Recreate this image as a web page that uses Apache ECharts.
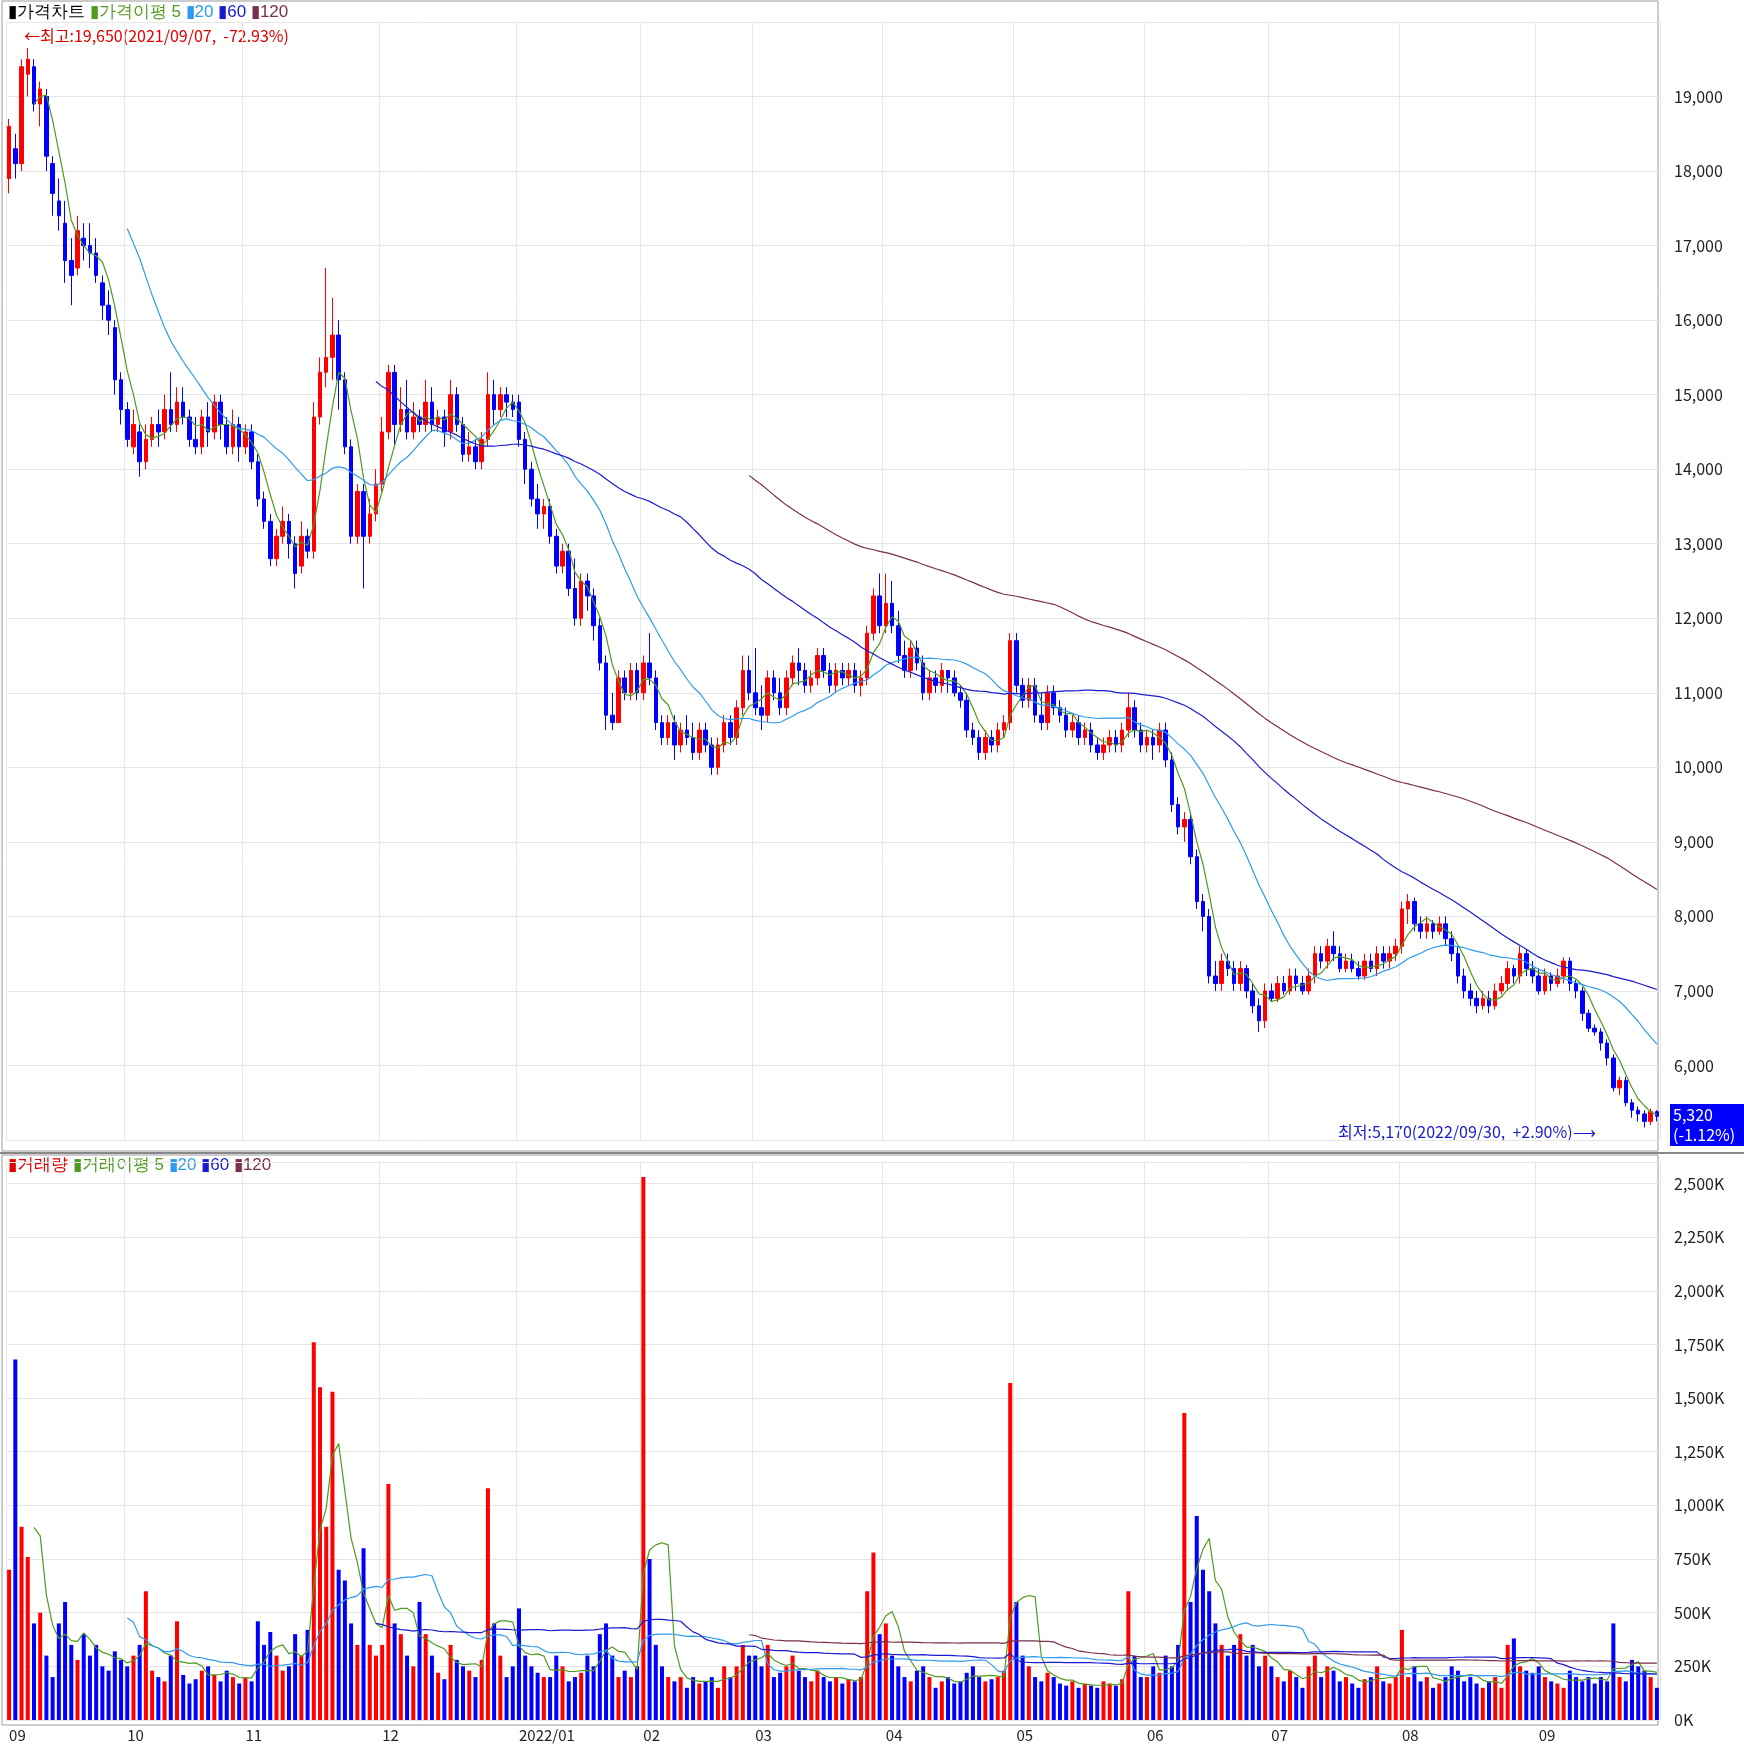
<!DOCTYPE html>
<html><head><meta charset="utf-8">
<script src="https://cdn.jsdelivr.net/npm/echarts@6/dist/echarts.min.js"></script>
<style>html,body{margin:0;padding:0;background:#fff}#c{width:1744px;height:1752px}</style>
</head><body><div id="c"></div>
<script>
const monthLabels=['09','10','11','12','2022/01','02','03','04','05','06','07','08','09'];
const monthKeys=['2021/09','2021/10','2021/11','2021/12','2022/01','2022/02','2022/03','2022/04','2022/05','2022/06','2022/07','2022/08','2022/09'];
// [open, close, low, high] per trading day, grouped by month
const ohlcByMonth=[
[[17900,18600,17700,18700],[18300,18100,17900,18500],[18100,19400,18000,19500],[19300,19500,19000,19650],[19400,18900,18800,19500],[18900,19100,18600,19200],[19000,18200,18000,19100],[18100,17700,17400,18200],[17600,17400,17200,17900],[17300,16800,16500,17600],[16800,16600,16200,17100],[16700,17200,16600,17400],[17100,17000,16800,17300],[17000,16900,16700,17300],[16900,16600,16500,17100],[16500,16200,16000,16600],[16200,16000,15800,16400],[15900,15200,15000,16000],[15200,14800,14600,15300]],
[[14800,14400,14300,14900],[14300,14600,14200,14800],[14500,14100,13900,14600],[14100,14400,14000,14600],[14400,14600,14300,14700],[14600,14500,14300,14800],[14500,14800,14400,15000],[14800,14600,14500,15300],[14600,14900,14500,15100],[14900,14700,14600,15100],[14700,14400,14300,14800],[14400,14300,14200,14700],[14300,14700,14200,14800],[14700,14500,14300,14900],[14500,14900,14400,15000],[14900,14600,14400,15000],[14600,14300,14200,14700],[14300,14600,14200,14800],[14600,14300,14100,14700]],
[[14300,14500,14200,14600],[14500,14100,14000,14600],[14100,13600,13500,14200],[13600,13300,13200,13700],[13300,12800,12700,13400],[12800,13100,12700,13200],[13100,13300,13000,13500],[13300,13000,12800,13400],[13000,12600,12400,13100],[12700,13100,12600,13300],[13100,12900,12800,13200],[12900,14700,12800,14900],[14700,15300,14600,15500],[15300,15500,15100,16700],[15500,15800,15200,16300],[15800,15200,14800,16000],[15200,14300,14200,15300],[14300,13100,13000,14400],[13100,13700,13000,13800],[13700,13100,12400,13800],[13100,13400,13000,13600],[13400,13800,13300,14000]],
[[13800,14500,13700,14700],[14500,15300,14400,15400],[15300,14600,14300,15400],[14600,14800,14500,15100],[14800,14500,14400,15200],[14500,14700,14400,14900],[14700,14600,14500,14800],[14600,14900,14500,15200],[14900,14600,14500,15100],[14600,14700,14500,14800],[14700,14500,14300,14800],[14500,15000,14400,15200],[15000,14600,14500,15100],[14600,14200,14100,14700],[14200,14300,14100,14500],[14300,14100,14000,14400],[14100,14400,14000,14500],[14400,15000,14300,15300],[15000,14800,14600,15200],[14800,15000,14700,15100],[15000,14900,14700,15100],[14900,14800,14700,15000]],
[[14900,14400,14300,15000],[14400,14000,13800,14500],[14000,13600,13500,14100],[13600,13400,13200,13800],[13400,13500,13200,13600],[13500,13100,13000,13600],[13100,12700,12600,13200],[12700,12900,12600,13000],[12900,12400,12300,13000],[12400,12000,11900,12800],[12000,12500,11900,12600],[12500,12300,12100,12600],[12300,11900,11700,12400],[11900,11400,11300,12000],[11400,10700,10500,11500],[10700,10600,10500,11000],[10600,11200,10600,11300],[11200,11000,10900,11300],[11000,11300,10900,11400],[11300,11000,10900,11400]],
[[11000,11400,10900,11500],[11400,11200,11100,11800],[11200,10600,10500,11300],[10600,10400,10300,10700],[10400,10600,10300,10700],[10600,10300,10100,10700],[10300,10500,10200,10600],[10500,10400,10300,10700],[10400,10200,10100,10600],[10200,10500,10100,10600],[10500,10300,10200,10600],[10300,10000,9900,10400],[10000,10300,9900,10400],[10300,10600,10200,10700],[10600,10400,10300,10700],[10400,10800,10300,10900],[10800,11300,10700,11500],[11300,11000,10900,11500]],
[[11000,10800,10700,11600],[10800,10700,10500,11100],[10700,11200,10600,11300],[11200,11000,10900,11300],[11000,10800,10700,11200],[10800,11200,10700,11300],[11200,11400,11100,11500],[11400,11300,11100,11600],[11300,11100,11000,11400],[11100,11200,11000,11300],[11200,11500,11100,11600],[11500,11300,11200,11600],[11300,11100,11000,11400],[11100,11300,11000,11400],[11300,11200,11100,11400],[11200,11300,11100,11400],[11300,11100,11000,11400],[11100,11200,10950,11300],[11200,11800,11100,11900],[11800,12300,11700,12400],[12300,11900,11800,12600]],
[[11900,12200,11800,12600],[12200,11900,11800,12500],[11900,11500,11400,12100],[11500,11300,11200,11700],[11300,11600,11200,11700],[11600,11400,11300,11700],[11400,11000,10900,11500],[11000,11200,10900,11300],[11200,11100,11000,11300],[11100,11300,11000,11400],[11300,11200,11000,11300],[11200,11000,10950,11300],[11000,10900,10800,11100],[10900,10500,10400,11000],[10500,10400,10300,10600],[10400,10200,10100,10500],[10200,10400,10100,10500],[10400,10300,10200,10500],[10300,10500,10200,10600],[10500,10600,10400,10700],[10600,11700,10500,11800]],
[[11700,11100,11000,11800],[11100,10900,10800,11200],[10900,11100,10800,11200],[11100,10700,10600,11200],[10700,10600,10500,11000],[10600,11000,10500,11100],[11000,10800,10700,11100],[10800,10700,10600,10900],[10700,10500,10400,10800],[10500,10600,10400,10700],[10600,10400,10300,10700],[10400,10500,10300,10600],[10500,10300,10200,10600],[10300,10200,10100,10400],[10200,10300,10100,10400],[10300,10400,10200,10500],[10400,10300,10200,10500],[10300,10500,10200,10600],[10500,10800,10400,11000],[10800,10500,10400,10900],[10500,10300,10200,10600]],
[[10300,10400,10200,10500],[10400,10300,10100,10500],[10300,10500,10200,10600],[10500,10100,10000,10600],[10100,9500,9400,10200],[9500,9200,9100,9600],[9200,9300,9000,9400],[9300,8800,8700,9400],[8800,8200,8100,8900],[8200,8000,7800,8300],[8000,7200,7100,8100],[7200,7100,7000,7400],[7100,7400,7000,7500],[7400,7300,7200,7500],[7300,7100,7000,7400],[7100,7300,7000,7400],[7300,7000,6900,7350],[7000,6800,6700,7100],[6800,6600,6450,6900],[6600,7000,6500,7100]],
[[7000,6900,6850,7100],[6900,7100,6850,7200],[7100,7000,6950,7200],[7000,7200,6950,7300],[7200,7100,7000,7300],[7100,7000,6950,7200],[7000,7200,6950,7300],[7200,7500,7100,7600],[7500,7400,7300,7600],[7400,7600,7300,7700],[7600,7500,7400,7800],[7500,7300,7250,7600],[7300,7400,7250,7500],[7400,7300,7250,7500],[7300,7200,7150,7400],[7200,7400,7150,7500],[7400,7300,7250,7500],[7300,7500,7200,7600],[7500,7400,7300,7600],[7400,7500,7300,7600],[7500,7600,7400,7700]],
[[7600,8100,7500,8200],[8100,8200,7900,8300],[8200,7900,7800,8250],[7900,7800,7700,8000],[7800,7900,7700,8000],[7900,7800,7700,7950],[7800,7900,7750,8000],[7900,7700,7600,8000],[7700,7500,7400,7800],[7500,7200,7100,7600],[7200,7000,6900,7300],[7000,6900,6800,7100],[6900,6800,6700,7000],[6800,6900,6750,7000],[6900,6800,6700,7000],[6800,7000,6750,7100],[7000,7100,6950,7200],[7100,7300,7000,7400],[7300,7200,7100,7350],[7200,7500,7100,7600],[7500,7300,7200,7550],[7300,7200,7100,7400]],
[[7200,7000,6950,7300],[7000,7200,6950,7300],[7200,7100,7000,7250],[7100,7200,7050,7300],[7200,7400,7100,7450],[7400,7100,7000,7450],[7100,7000,6900,7150],[7000,6700,6600,7050],[6700,6500,6450,6750],[6500,6450,6400,6550],[6450,6300,6200,6500],[6300,6100,6000,6350],[6100,5700,5650,6150],[5700,5800,5600,5850],[5800,5500,5450,5850],[5500,5400,5300,5550],[5400,5350,5250,5450],[5350,5250,5170,5400],[5250,5380,5200,5420],[5380,5320,5250,5400]]
];
// volume in thousands of shares
const volumeByMonth=[
[700,1680,900,760,450,500,300,200,450,550,350,280,400,300,350,250,230,320,280],
[250,300,350,600,230,200,180,300,460,210,170,190,230,250,210,180,230,200,170],
[200,180,460,350,410,300,230,250,400,300,420,1760,1550,900,1530,700,650,450,350,800,350,300],
[350,1100,450,400,300,250,550,400,300,220,190,350,280,250,230,200,280,1080,450,300,200,250],
[520,300,250,220,200,200,300,250,180,200,220,300,250,400,450,300,200,230,200,250],
[2530,750,350,250,200,180,200,150,200,170,180,200,150,250,200,250,350,300],
[300,250,350,200,220,250,300,230,200,180,230,200,180,200,170,190,180,200,600,780,400],
[450,300,250,200,180,230,250,200,150,180,200,170,180,220,250,200,180,190,200,230,1570],
[550,300,250,200,180,220,200,170,160,180,150,170,160,150,180,170,160,190,600,300,200],
[200,250,220,300,250,350,1430,550,950,700,600,450,350,300,350,400,300,350,250,300],
[250,200,180,230,200,150,250,300,200,250,230,180,200,170,150,190,200,250,180,170,200],
[420,200,250,180,200,150,170,200,250,230,180,200,170,150,180,200,150,350,380,250,230,220],
[250,200,180,170,150,230,200,180,200,170,200,180,450,200,180,280,250,230,200,150]
];

const cats=[],ohlc=[],vols=[],monthStart={};
ohlcByMonth.forEach((m,mi)=>{m.forEach((d,di)=>{if(di===0)monthStart[cats.length]=monthLabels[mi];cats.push(monthKeys[mi]+'#'+(di+1));ohlc.push(d);vols.push(volumeByMonth[mi][di]);});});
const closes=ohlc.map(d=>d[1]);
function ma(arr,n){return arr.map((v,i)=>{if(i<n-1)return null;let s=0;for(let k=i-n+1;k<=i;k++)s+=arr[k];return +(s/n).toFixed(1);});}
const C5='#4f9a1f',C20='#2f9bf0',C60='#1a1ad0',C120='#7a2f4c';
const RED='#ff0000',BLUE='#0000ff';
const volData=vols.map((v,i)=>({value:v,itemStyle:{color:ohlc[i][1]>=ohlc[i][0]?RED:BLUE}}));
const font='"Noto Sans CJK KR", "Noto Sans", sans-serif';
const xCommon={type:'category',data:cats,boundaryGap:true,axisTick:{show:false},axisLine:{show:false},
 splitLine:{show:true,interval:(i)=>monthStart[i]!==undefined,lineStyle:{color:'#e6e6e6'}}};
const chart=echarts.init(document.getElementById('c'),null,{renderer:'canvas'});
chart.setOption({
 animation:false,backgroundColor:'#fff',
 grid:[{left:6,right:84,top:22,bottom:612},{left:6,right:84,top:1162,bottom:32}],
 xAxis:[Object.assign({gridIndex:0,axisLabel:{show:false}},xCommon),
  Object.assign({gridIndex:1,axisLabel:{show:true,interval:(i)=>monthStart[i]!==undefined,formatter:(v,i)=>monthStart[i]||'',
   color:'#222',fontFamily:font,fontSize:15,align:'left',margin:8,
   rich:{b:{fontWeight:'bold'}}}},xCommon)],
 yAxis:[{gridIndex:0,position:'right',min:5000,max:20000,interval:1000,scale:true,
   axisLine:{show:false},axisTick:{show:false},splitLine:{lineStyle:{color:'#e6e6e6'}},
   axisLabel:{showMinLabel:false,showMaxLabel:false,color:'#222',fontFamily:font,fontSize:16,margin:14,
    formatter:v=>v.toLocaleString('en-US')}},
  {gridIndex:1,position:'right',min:0,max:2600,interval:250,
   axisLine:{show:false},axisTick:{show:false},splitLine:{lineStyle:{color:'#e6e6e6'}},
   axisLabel:{showMaxLabel:false,color:'#222',fontFamily:font,fontSize:16,margin:14,
    formatter:v=>v.toLocaleString('en-US')+'K'}}],
 series:[
  {type:'candlestick',xAxisIndex:0,yAxisIndex:0,data:ohlc,barWidth:4,
   itemStyle:{color:RED,color0:BLUE,borderColor:RED,borderColor0:BLUE,borderWidth:1}},
  {type:'line',xAxisIndex:0,yAxisIndex:0,data:ma(closes,5),showSymbol:false,lineStyle:{color:C5,width:1.2},silent:true},
  {type:'line',xAxisIndex:0,yAxisIndex:0,data:ma(closes,20),showSymbol:false,lineStyle:{color:C20,width:1.2},silent:true},
  {type:'line',xAxisIndex:0,yAxisIndex:0,data:ma(closes,60),showSymbol:false,lineStyle:{color:C60,width:1.2},silent:true},
  {type:'line',xAxisIndex:0,yAxisIndex:0,data:ma(closes,120),showSymbol:false,lineStyle:{color:C120,width:1.2},silent:true},
  {type:'bar',xAxisIndex:1,yAxisIndex:1,data:volData,barWidth:4},
  {type:'line',xAxisIndex:1,yAxisIndex:1,data:ma(vols,5),showSymbol:false,lineStyle:{color:C5,width:1.2},silent:true},
  {type:'line',xAxisIndex:1,yAxisIndex:1,data:ma(vols,20),showSymbol:false,lineStyle:{color:C20,width:1.2},silent:true},
  {type:'line',xAxisIndex:1,yAxisIndex:1,data:ma(vols,60),showSymbol:false,lineStyle:{color:C60,width:1.2},silent:true},
  {type:'line',xAxisIndex:1,yAxisIndex:1,data:ma(vols,120),showSymbol:false,lineStyle:{color:C120,width:1.2},silent:true}
 ],
 graphic:[
  {type:'rect',shape:{x:2,y:1,width:1656,height:1150},style:{fill:'none',stroke:'#9a9a9a',lineWidth:1},silent:true},
  {type:'rect',shape:{x:2,y:1155,width:1656,height:570},style:{fill:'none',stroke:'#9a9a9a',lineWidth:1},silent:true},
  {type:'line',shape:{x1:0,y1:1153,x2:1744,y2:1153},style:{stroke:'#888',lineWidth:2}},
  {type:'text',left:8,top:4,style:{text:'{k|▮가격차트 }{g|▮가격이평 5 }{b|▮20 }{n|▮60 }{m|▮120}',fontFamily:font,fontSize:17,
   rich:{k:{fill:'#000',fontSize:17},g:{fill:C5,fontSize:17},b:{fill:C20,fontSize:17},n:{fill:C60,fontSize:17},m:{fill:C120,fontSize:17}}}},
  {type:'text',left:24,top:28,style:{text:'←최고:19,650(2021/09/07,  -72.93%)',fill:'#e00000',fontFamily:font,fontSize:16}},
  {type:'text',left:1338,top:1124,style:{text:'최저:5,170(2022/09/30,  +2.90%)⟶',fill:'#1a1ad0',fontFamily:font,fontSize:16}},
  {type:'rect',shape:{x:1670,y:1104,width:74,height:42},style:{fill:'#0000ff'}},
  {type:'text',left:1673,top:1105,style:{text:'5,320\n(-1.12%)',fill:'#fff',fontFamily:font,fontSize:16,lineHeight:20}},
  {type:'text',left:8,top:1157,style:{text:'{r|▮거래량 }{g|▮거래이평 5 }{b|▮20 }{n|▮60 }{m|▮120}',fontFamily:font,fontSize:17,
   rich:{r:{fill:'#e00000',fontSize:17},g:{fill:C5,fontSize:17},b:{fill:C20,fontSize:17},n:{fill:C60,fontSize:17},m:{fill:C120,fontSize:17}}}}
 ]
});
</script></body></html>
